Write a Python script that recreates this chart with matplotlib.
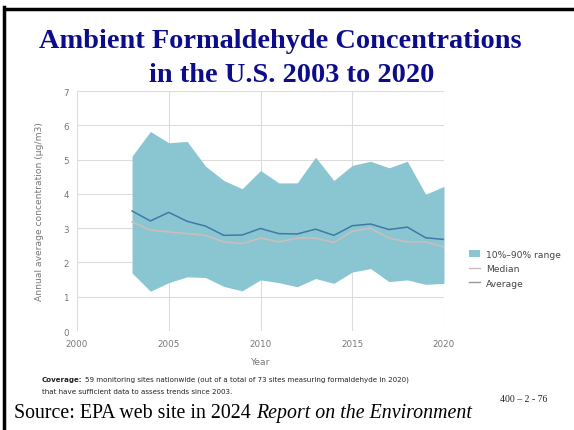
import matplotlib
matplotlib.use("Agg")
import matplotlib.pyplot as plt
from matplotlib.lines import Line2D
from matplotlib.patches import Patch

years = list(range(2003, 2021))
p90 = [5.10, 5.82, 5.49, 5.53, 4.81, 4.39, 4.15, 4.68, 4.32, 4.32, 5.07, 4.39, 4.83, 4.95, 4.76, 4.95, 3.99, 4.22]
p10 = [1.69, 1.16, 1.41, 1.58, 1.56, 1.30, 1.17, 1.49, 1.41, 1.29, 1.53, 1.39, 1.72, 1.82, 1.44, 1.49, 1.36, 1.39]
average = [3.50, 3.21, 3.46, 3.20, 3.06, 2.79, 2.80, 2.99, 2.84, 2.83, 2.97, 2.79, 3.07, 3.12, 2.96, 3.03, 2.72, 2.67]
median = [3.18, 2.94, 2.89, 2.84, 2.79, 2.60, 2.55, 2.71, 2.60, 2.71, 2.71, 2.58, 2.91, 3.00, 2.71, 2.60, 2.60, 2.45]
xticks = [2000, 2005, 2010, 2015, 2020]
yticks = [0, 1, 2, 3, 4, 5, 6, 7]

fill_c = "#8ac6d1"
avg_c = "#3f79a8"
med_c = "#c9bdbd"
grid_c = "#dcdcdc"
txt_c = "#777777"

W, H = 574, 431
fig = plt.figure(figsize=(5.74, 4.31), dpi=100)
fig.patch.set_facecolor("white")

ax = fig.add_axes([77/W, 1-332/H, (444-77)/W, (332-92)/H])
ax.fill_between(years, p10, p90, color=fill_c, linewidth=0, zorder=2)
ax.plot(years, median, color=med_c, lw=1.2, zorder=3)
ax.plot(years, average, color=avg_c, lw=1.1, zorder=4)
ax.set_xlim(2000, 2020)
ax.set_ylim(0, 7)
ax.set_xticks(xticks)
ax.set_yticks(yticks)
ax.grid(True, color=grid_c, lw=0.8, zorder=0)
ax.set_axisbelow(True)
for s in ax.spines.values():
    s.set_visible(False)
ax.tick_params(length=0, labelsize=6.3, colors=txt_c, pad=6)
ax.set_xlabel("Year", fontsize=6.6, color=txt_c, labelpad=6)
ax.set_ylabel("Annual average concentration (μg/m3)", fontsize=6.6, color=txt_c, labelpad=14)

handles = [Patch(facecolor=fill_c, edgecolor="none", label="10%–90% range"),
           Line2D([], [], color=med_c, lw=1.0, label="Median"),
           Line2D([], [], color="#999999", lw=1.0, label="Average")]
leg = fig.legend(handles=handles, loc="upper left", bbox_to_anchor=(465/W, 1-247/H),
                 frameon=False, fontsize=6.6, handlelength=1.2, handletextpad=0.7,
                 labelspacing=0.6, borderaxespad=0)
for t in leg.get_texts():
    t.set_color("#444444")

fig.text(280/W, 1-42/H, "Ambient Formaldehyde Concentrations", ha="center", va="center",
         fontsize=20.4, fontweight="bold", color="#0d0d8c", family="Liberation Serif")
fig.text(292/W, 1-75/H, "in the U.S. 2003 to 2020", ha="center", va="center",
         fontsize=20.4, fontweight="bold", color="#0d0d8c", family="Liberation Serif")

fig.canvas.draw()
r = fig.canvas.get_renderer()

t1 = fig.text(42/W, 1-380/H, "Coverage:", ha="left", va="center", fontsize=5.15,
              fontweight="bold", color="#222222", family="DejaVu Sans")
bb = t1.get_window_extent(renderer=r)
fig.text((bb.x1 + 2)/W, 1-380/H, "59 monitoring sites nationwide (out of a total of 73 sites measuring formaldehyde in 2020)",
         ha="left", va="center", fontsize=5.15, color="#222222", family="DejaVu Sans")
fig.text(42/W, 1-392/H, "that have sufficient data to assess trends since 2003.",
         ha="left", va="center", fontsize=5.15, color="#222222", family="DejaVu Sans")

s1 = fig.text(14/W, 1-414/H, "Source: EPA web site in 2024 ", ha="left", va="center",
              fontsize=14.3, family="Liberation Serif", color="black")
bb = s1.get_window_extent(renderer=r)
fig.text(bb.x1/W, 1-414/H, "Report on the Environment", ha="left", va="center",
         fontsize=14.3, family="Liberation Serif", style="italic", color="black")
fig.text(500/W, 1-400/H, "400 – 2 - 76", ha="left", va="center",
         fontsize=7, family="Liberation Serif", color="#222222")

fig.add_artist(Line2D([5/W, 1], [1-9.5/H, 1-9.5/H], color="black", lw=2.5, transform=fig.transFigure))
fig.add_artist(Line2D([4/W, 4/W], [0, 1-8/H], color="black", lw=2.5, transform=fig.transFigure))

fig.savefig("out.png", dpi=100)
